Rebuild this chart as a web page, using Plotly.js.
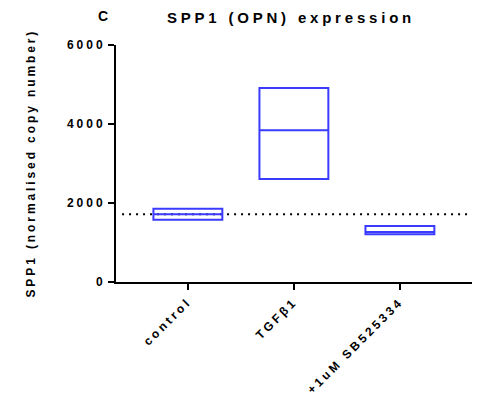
<!DOCTYPE html>
<html>
<head>
<meta charset="utf-8">
<script src="https://cdn.plot.ly/plotly-3.0.1.min.js"></script>
<style>
html, body { margin: 0; padding: 0; background: #fff; }
#chart .gtitle { letter-spacing: 3.8px; }
#chart .xtick text, #chart .ytick text { letter-spacing: 3px; }
#chart .annotation[data-index="1"] text { letter-spacing: 2.9px; }
</style>
</head>
<body>
<div id="chart" style="width:477px;height:403px;"></div>
<script>
// Data (floating min/max bars with line at mean)
const categories = ['control', 'TGFβ1', '+1uM SB525334'];
const lowValues  = [1577, 2608, 1208];
const midValues  = [1714, 3840, 1266];
const highValues = [1856, 4911, 1418];
const baselineValue = 1714;
const yTickValues = [0, 2000, 4000, 6000];

const BLUE = '#3b3bff';
const FONT = 'Arial, "Liberation Sans", sans-serif';

const trace = {
  type: 'box',
  x: categories,
  q1: lowValues,
  median: midValues,
  q3: highValues,
  lowerfence: lowValues,
  upperfence: highValues,
  width: 0.65,
  whiskerwidth: 0,
  line: { color: BLUE, width: 2 },
  fillcolor: 'rgba(0,0,0,0)',
  hoverinfo: 'skip',
  showlegend: false
};

const layout = {
  width: 477,
  height: 403,
  margin: { l: 116, r: 5, t: 45, b: 121 },
  paper_bgcolor: '#fff',
  plot_bgcolor: '#fff',
  font: { family: FONT, color: '#000' },
  title: {
    text: 'SPP1 (OPN) expression',
    font: { family: FONT, size: 15, weight: 'bold', color: '#000' },
    xref: 'container', x: 291 / 477, xanchor: 'center',
    yref: 'container', y: 1 - 18 / 403, yanchor: 'middle'
  },
  xaxis: {
    type: 'category',
    range: [-0.678, 2.68],
    showline: true, linecolor: '#000', linewidth: 2,
    ticks: 'outside', ticklen: 6, tickwidth: 2, tickcolor: '#000',
    tickangle: -45,
    tickfont: { family: FONT, size: 12, weight: 'bold', color: '#000' },
    showgrid: false, zeroline: false, fixedrange: true
  },
  yaxis: {
    range: [0, 6000],
    tickvals: yTickValues,
    ticktext: yTickValues.map(String),
    showline: true, linecolor: '#000', linewidth: 2,
    ticks: 'outside', ticklen: 6, tickwidth: 2, tickcolor: '#000',
    tickfont: { family: FONT, size: 12, weight: 'bold', color: '#000' },
    showgrid: false, zeroline: false, fixedrange: true
  },
  shapes: [{
    type: 'line', xref: 'paper', yref: 'y',
    x0: 0.017, x1: 1, y0: baselineValue, y1: baselineValue,
    line: { color: '#000', width: 2, dash: '2px,5px' },
    layer: 'below'
  }],
  annotations: [
    {
      text: 'C', showarrow: false,
      xref: 'paper', yref: 'paper', x: (103 - 116) / 356, y: 1,
      xanchor: 'center', yanchor: 'middle', yshift: 29,
      font: { family: FONT, size: 14, weight: 'bold', color: '#000' }
    },
    {
      text: 'SPP1 (normalised copy number)', showarrow: false,
      xref: 'paper', yref: 'paper', x: (30 - 116) / 356, y: 0.5,
      xanchor: 'center', yanchor: 'middle', textangle: -90,
      font: { family: FONT, size: 12, weight: 'bold', color: '#000' }
    }
  ]
};

Plotly.newPlot('chart', [trace], layout, { displayModeBar: false, staticPlot: true });
</script>
</body>
</html>
